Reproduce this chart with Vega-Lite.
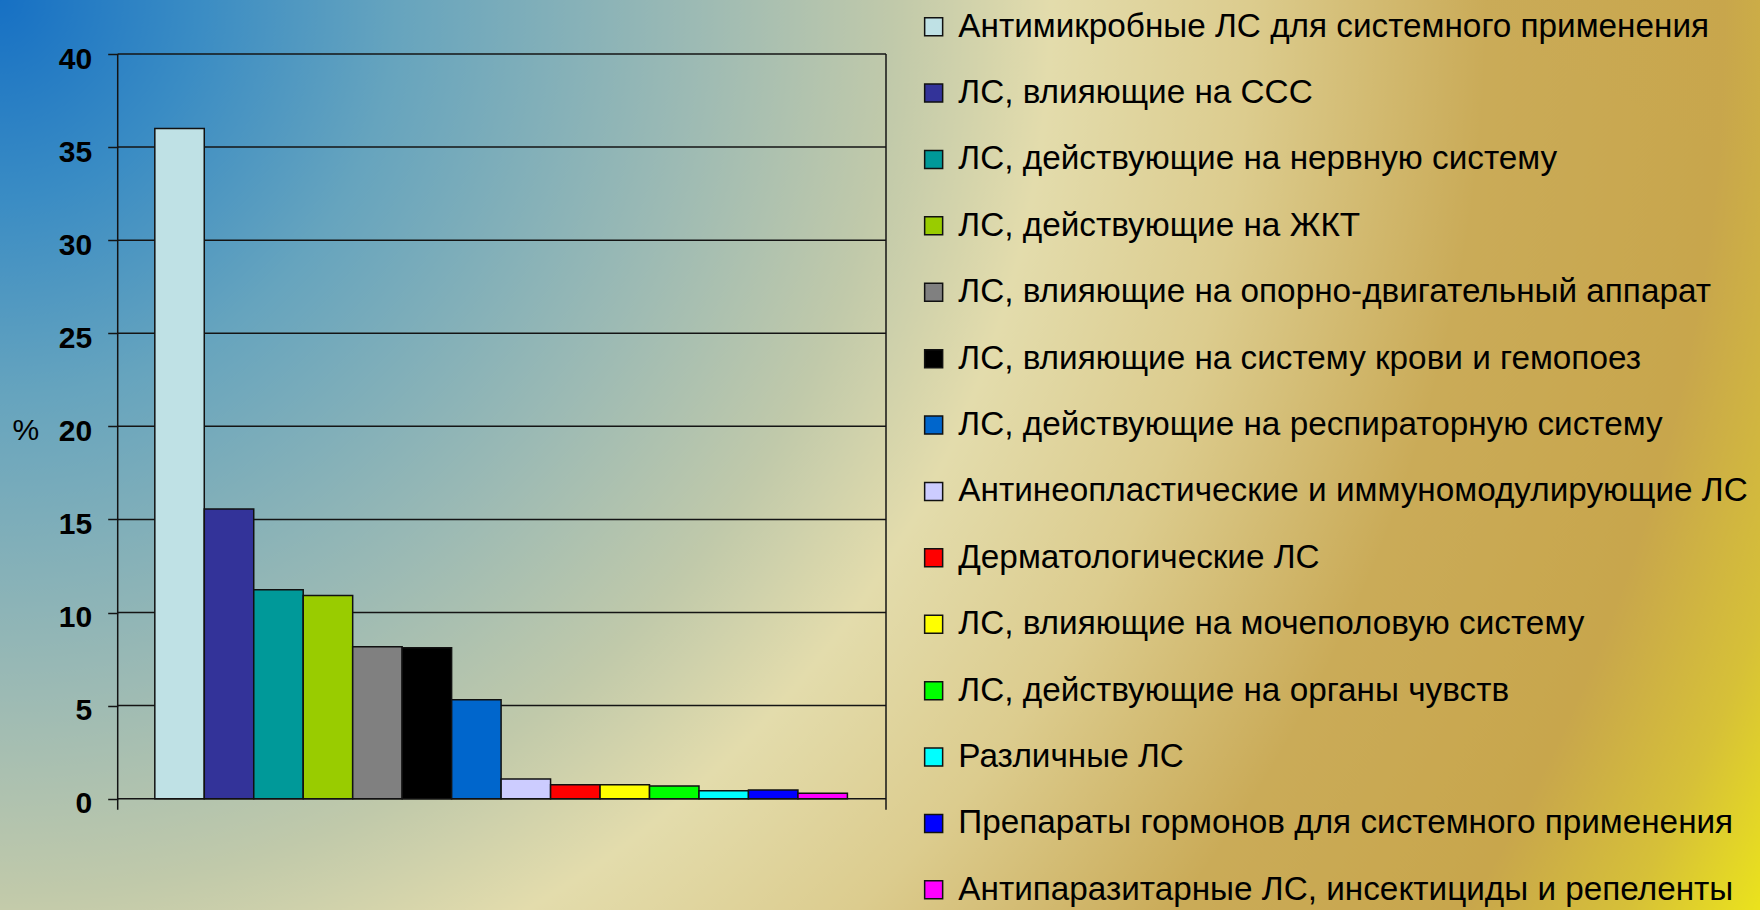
{
  "$schema": "https://vega.github.io/schema/vega-lite/v6.json",
  "width": 768.3,
  "height": 744.7,
  "autosize": {"type": "none"},
  "padding": {"left": 117.7, "top": 54, "right": 874, "bottom": 111.3},
  "background": "#d2c790",
  "config": {
    "view": {"stroke": null},
    "font": "Liberation Sans",
    "scale": {"continuousPadding": 0}
  },
  "data": {
    "values": [
      {"rank": 1, "group": "Антимикробные ЛС для системного применения", "pct": 36.0},
      {"rank": 2, "group": "ЛС, влияющие на ССС", "pct": 15.56},
      {"rank": 3, "group": "ЛС, действующие на нервную систему", "pct": 11.23},
      {"rank": 4, "group": "ЛС, действующие на ЖКТ", "pct": 10.92},
      {"rank": 5, "group": "ЛС, влияющие на опорно-двигательный аппарат", "pct": 8.16},
      {"rank": 6, "group": "ЛС, влияющие на систему крови и гемопоез", "pct": 8.11},
      {"rank": 7, "group": "ЛС, действующие на респираторную систему", "pct": 5.32},
      {"rank": 8, "group": "Антинеопластические и иммуномодулирующие ЛС", "pct": 1.06},
      {"rank": 9, "group": "Дерматологические ЛС", "pct": 0.75},
      {"rank": 10, "group": "ЛС, влияющие на мочеполовую систему", "pct": 0.75},
      {"rank": 11, "group": "ЛС, действующие на органы чувств", "pct": 0.68},
      {"rank": 12, "group": "Различные ЛС", "pct": 0.43},
      {"rank": 13, "group": "Препараты гормонов для системного применения", "pct": 0.47},
      {"rank": 14, "group": "Антипаразитарные ЛС, инсектициды и репеленты", "pct": 0.29}
    ]
  },
  "layer": [
    {
      "data": {"values": [{}]},
      "mark": {
        "type": "rect",
        "fill": {
          "gradient": "radial",
          "x1": 0, "y1": 0.2415, "r1": 0,
          "x2": 0, "y2": 0.2415, "r2": 1.1256,
          "stops": [
            {"offset": 0, "color": "#1670c4"},
            {"offset": 0.1, "color": "#3a8cc4"},
            {"offset": 0.2, "color": "#66a4be"},
            {"offset": 0.35, "color": "#9cbab4"},
            {"offset": 0.45, "color": "#c0c9aa"},
            {"offset": 0.53, "color": "#e3dcac"},
            {"offset": 0.63, "color": "#dccc8e"},
            {"offset": 0.75, "color": "#caab58"},
            {"offset": 0.87, "color": "#c8a64c"},
            {"offset": 0.94, "color": "#d6c038"},
            {"offset": 1, "color": "#ebe31c"}
          ]
        }
      },
      "encoding": {
        "x": {"datum": -2.64, "type": "quantitative", "scale": {"domain": [-0.25, 15.28], "nice": false, "zero": false, "padding": 0}, "axis": null},
        "x2": {"datum": 32.97},
        "y": {"datum": 42.92, "type": "quantitative", "scale": {"domain": [0, 40], "nice": false, "zero": false, "padding": 0}},
        "y2": {"datum": -6.0}
      }
    },
    {
      "data": {"values": [{"v": 0}, {"v": 5}, {"v": 10}, {"v": 15}, {"v": 20}, {"v": 25}, {"v": 30}, {"v": 35}, {"v": 40}]},
      "mark": {"type": "rule", "color": "#141414", "strokeWidth": 1.5},
      "encoding": {
        "y": {"field": "v", "type": "quantitative", "scale": {"domain": [0, 40], "nice": false, "zero": false, "padding": 0}}
      }
    },
    {
      "data": {"values": [{}]},
      "mark": {"type": "rule", "color": "#141414", "strokeWidth": 1.5},
      "encoding": {
        "x": {"datum": -0.25, "type": "quantitative", "scale": {"domain": [-0.25, 15.28], "nice": false, "zero": false, "padding": 0}, "axis": null},
        "y": {"datum": 40, "type": "quantitative", "scale": {"domain": [0, 40], "nice": false, "zero": false, "padding": 0}},
        "y2": {"datum": -0.6}
      }
    },
    {
      "data": {"values": [{}]},
      "mark": {"type": "rule", "color": "#141414", "strokeWidth": 1.5},
      "encoding": {
        "x": {"datum": 15.28, "type": "quantitative", "scale": {"domain": [-0.25, 15.28], "nice": false, "zero": false, "padding": 0}, "axis": null},
        "y": {"datum": 40, "type": "quantitative", "scale": {"domain": [0, 40], "nice": false, "zero": false, "padding": 0}},
        "y2": {"datum": -0.6}
      }
    },
    {
      "mark": {"type": "bar", "width": 49.45, "stroke": "#111111", "strokeWidth": 1.5},
      "encoding": {
        "x": {"field": "rank", "type": "quantitative", "scale": {"domain": [-0.25, 15.28], "nice": false, "zero": false, "padding": 0}, "axis": null},
        "y": {
          "field": "pct", "type": "quantitative",
          "scale": {"domain": [0, 40], "nice": false, "zero": false, "padding": 0},
          "axis": {
            "values": [0, 5, 10, 15, 20, 25, 30, 35, 40],
            "grid": false,
            "domain": false,
            "zindex": 1,
            "tickColor": "#141414",
            "tickWidth": 1.5,
            "tickSize": 10,
            "labelFont": "Liberation Sans",
            "labelFontWeight": "bold",
            "labelFontSize": 30,
            "labelColor": "#000000",
            "labelPadding": 16,
            "labelBaseline": "alphabetic",
            "labelOffset": 14,
            "title": "%",
            "titleAngle": 0,
            "titleFont": "Liberation Sans",
            "titleFontWeight": "normal",
            "titleFontSize": 30,
            "titleColor": "#000000",
            "titleAlign": "center",
            "titleBaseline": "alphabetic",
            "titleX": -92.4,
            "titleY": 385
          }
        },
        "color": {
          "field": "group",
          "type": "nominal",
          "scale": {
            "domain": [
              "Антимикробные ЛС для системного применения",
              "ЛС, влияющие на ССС",
              "ЛС, действующие на нервную систему",
              "ЛС, действующие на ЖКТ",
              "ЛС, влияющие на опорно-двигательный аппарат",
              "ЛС, влияющие на систему крови и гемопоез",
              "ЛС, действующие на респираторную систему",
              "Антинеопластические и иммуномодулирующие ЛС",
              "Дерматологические ЛС",
              "ЛС, влияющие на мочеполовую систему",
              "ЛС, действующие на органы чувств",
              "Различные ЛС",
              "Препараты гормонов для системного применения",
              "Антипаразитарные ЛС, инсектициды и репеленты"
            ],
            "range": ["#bfe1e5", "#333399", "#009999", "#99cc00", "#808080", "#000000", "#0066cc", "#ccccff", "#ff0000", "#ffff00", "#00ff00", "#00ffff", "#0000ff", "#ff00ff"]
          },
          "legend": {
            "orient": "none",
            "legendX": 799.3,
            "legendY": -44,
            "title": null,
            "symbolType": "square",
            "symbolSize": 324,
            "symbolStrokeColor": "#111111",
            "symbolStrokeWidth": 1.5,
            "symbolOpacity": 1,
            "labelFont": "Liberation Sans",
            "labelFontSize": 33.3,
            "labelColor": "#000000",
            "labelLimit": 1200,
            "labelOffset": 8,
            "rowPadding": 32.4
          }
        }
      }
    }
  ]
}
